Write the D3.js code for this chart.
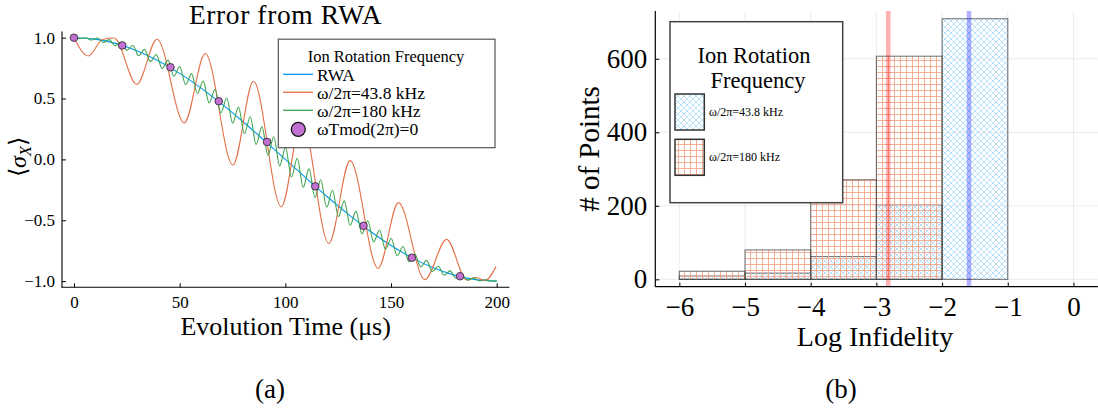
<!DOCTYPE html>
<html>
<head>
<meta charset="utf-8">
<script src="https://cdn.jsdelivr.net/npm/d3@7"></script>
<style>
  body { margin: 0; background: #fff; }
</style>
</head>
<body>
<div id="chart"></div>
<script>
// ---- data: panel (a) ----
var rwaT = [0, 10, 20, 30, 40, 50, 60, 70, 80, 90, 100, 110, 120, 130, 140, 150, 160, 170, 180, 190, 200];
var rwaY = [1, 0.988, 0.951, 0.891, 0.809, 0.707, 0.588, 0.454, 0.309, 0.156, 0, -0.156, -0.309, -0.454, -0.588, -0.707, -0.809, -0.891, -0.951, -0.988, -1];

var slowT = [0, 6.8, 13.5, 19, 29.7, 39.3, 52.2, 62.1, 75.2, 84.9, 98.1, 107.7, 120.6, 130.6, 143.9, 153.5, 166, 176.3, 185.8, 190.3, 194.4, 199.7];
var slowY = [1, 0.85, 0.985, 0.997, 0.617, 0.987, 0.30, 0.87, -0.046, 0.642, -0.39, 0.33, -0.69, -0.01, -0.896, -0.355, -0.988, -0.657, -0.99, -0.97, -0.995, -0.88];

var fastT = [0, 2.78, 5.56, 8.34, 11.12, 13.9, 16.68, 19.46, 22.24, 25.02, 27.8, 30.58, 33.36, 36.14, 38.92, 41.7, 44.48, 47.26, 50.04, 52.82,
  55.6, 58.38, 61.16, 63.94, 66.72, 69.5, 72.28, 75.06, 77.84, 80.62, 83.4, 86.18, 88.96, 91.74, 94.52, 97.3, 100.08, 102.86, 105.64, 108.42,
  111.2, 113.98, 116.76, 119.54, 122.32, 125.1, 127.88, 130.66, 133.44, 136.22, 139, 141.78, 144.56, 147.34, 150.12, 152.9, 155.68, 158.46, 161.24, 164.02,
  166.8, 169.58, 172.36, 175.14, 177.92, 180.7, 183.48, 186.26, 189.04, 191.82, 194.6, 197.38, 200];
var fastY = [1.000, 0.993, 0.999, 0.981, 0.997, 0.961, 0.984, 0.934, 0.964, 0.896,
  0.938, 0.852, 0.904, 0.803, 0.862, 0.747, 0.816, 0.684, 0.763, 0.615,
  0.705, 0.542, 0.643, 0.464, 0.576, 0.382, 0.504, 0.298, 0.430, 0.211,
  0.351, 0.123, 0.270, 0.034, 0.186, -0.054, 0.099, -0.145, 0.010, -0.230,
  -0.078, -0.313, -0.167, -0.393, -0.254, -0.470, -0.341, -0.543, -0.425, -0.613,
  -0.504, -0.678, -0.580, -0.738, -0.650, -0.792, -0.716, -0.841, -0.776, -0.884,
  -0.830, -0.921, -0.878, -0.952, -0.916, -0.976, -0.948, -0.992, -0.973, -0.998,
  -0.989, -0.999, -1.000];

var markT = [0, 22.83, 45.66, 68.49, 91.32, 114.16, 136.99, 159.82, 182.65];
var markY = [1.0, 0.936, 0.757, 0.478, 0.144, -0.221, -0.546, -0.808, -0.960];

var lineNames = ["RWA", "ω/2π=43.8 kHz", "ω/2π=180 kHz", "ωTmod(2π)=0"];
var xTicksA = [0, 50, 100, 150, 200];
var yTicksA = [-1, -0.5, 0, 0.5, 1];

// ---- data: panel (b) ----
var binEdges = [-6, -5, -4, -3, -2, -1, 0];
var countsSlow = [9, 17, 62, 203, 709, 0];   // 43.8 kHz
var countsFast = [22, 80, 271, 607, 0, 0];   // 180 kHz
var meanSlow = -1.59;
var meanFast = -2.82;
var histNames = ["ω/2π=43.8 kHz", "ω/2π=180 kHz"];
var xTicksB = [-6, -5, -4, -3, -2, -1, 0];
var yTicksB = [0, 200, 400, 600];

var BLUE = "#009AFA", ORANGE = "#E36F47", GREEN = "#3EA44E", PURPLE = "#C271D2";
var SERIF = "Liberation Serif";

var svg = d3.select('#chart').append('svg').attr('width', 1098).attr('height', 413)
  .attr('font-family', SERIF);
var defs = svg.append('defs');

// small helper so every label gets the serif font
function label(g, x, y, size, txt, anchor) {
  return g.append('text').attr('x', x).attr('y', y).attr('text-anchor', anchor || 'middle')
    .style('font-family', SERIF).style('font-size', size + 'px').attr('fill', '#000').text(txt);
}

// hatch patterns
var pb = defs.append('pattern').attr('id', 'hatchBlue').attr('patternUnits', 'userSpaceOnUse')
  .attr('width', 6).attr('height', 6);
pb.append('path').attr('d', 'M0,0L6,6M6,0L0,6M-1,5L1,7M5,-1L7,1M-1,1L1,-1M5,7L7,5')
  .attr('stroke', '#7fcaf7').attr('stroke-width', 0.55).attr('fill', 'none');
var po = defs.append('pattern').attr('id', 'hatchOrange').attr('patternUnits', 'userSpaceOnUse')
  .attr('width', 6).attr('height', 6);
po.append('path').attr('d', 'M0.5,0V6M0,0.5H6')
  .attr('stroke', '#f4a68b').attr('stroke-width', 0.9).attr('fill', 'none');

function fmtMinus(v, d) {
  var s = d3.format('.' + d + 'f')(Math.abs(v));
  return (v < 0 ? '\u2212' : '') + s;
}

// ================= panel (a) =================
var xA = d3.scaleLinear().domain([-6, 206]).range([61.3, 509.4]);
var yA = d3.scaleLinear().domain([-1.05, 1.05]).range([287.2, 31.6]);
var gA = svg.append('g');

label(gA, 285.5, 24, 27.5, 'Error from RWA').attr('letter-spacing', 0.6);

var lineA = function(ts, ys) {
  return d3.line().x(function(d, i) { return xA(ts[i]); }).y(function(d, i) { return yA(ys[i]); })
    .curve(d3.curveMonotoneX)(ts);
};
gA.append('path').attr('d', lineA(rwaT, rwaY)).attr('fill', 'none').attr('stroke', BLUE).attr('stroke-width', 1.1);
gA.append('path').attr('d', lineA(slowT, slowY)).attr('fill', 'none').attr('stroke', ORANGE).attr('stroke-width', 1.1);
gA.append('path').attr('d', lineA(fastT, fastY)).attr('fill', 'none').attr('stroke', GREEN).attr('stroke-width', 1.1);
gA.selectAll('.mk').data(markT).enter().append('circle')
  .attr('cx', function(d) { return xA(d); }).attr('cy', function(d, i) { return yA(markY[i]); })
  .attr('r', 3.8).attr('fill', PURPLE).attr('stroke', '#222').attr('stroke-width', 0.8);

// axes (a)
var axA = gA.append('g').attr('transform', 'translate(0,287.3)')
  .call(d3.axisBottom(xA).tickValues(xTicksA).tickSize(-4).tickPadding(8).tickFormat(d3.format('d')));
var ayA = gA.append('g').attr('transform', 'translate(62,0)')
  .call(d3.axisLeft(yA).tickValues(yTicksA).tickSize(-4).tickPadding(7).tickFormat(function(d) { return fmtMinus(d, 1); }));
[axA, ayA].forEach(function(a) {
  a.attr('font-family', SERIF);
  a.select('.domain').attr('stroke', '#000').attr('stroke-width', 1.1);
  a.selectAll('.tick line').attr('stroke', '#000');
  a.selectAll('text').style('font-family', SERIF).style('font-size', '17px').attr('fill', '#000');
});
axA.select('.domain').attr('d', 'M61.3,0H509.4');
ayA.select('.domain').attr('d', 'M0,31.6V287.3');
axA.selectAll('text').attr('dy', '0.71em').attr('y', 8.5);

label(gA, 285.7, 335, 26, 'Evolution Time (μs)');
var yl = gA.append('text').attr('transform', 'translate(26,157) rotate(-90)').attr('text-anchor', 'middle')
  .style('font-family', SERIF).style('font-size', '24px');
yl.append('tspan').text('⟨');
yl.append('tspan').style('font-style', 'italic').text('σ');
yl.append('tspan').style('font-style', 'italic').style('font-size', '17px').attr('dy', 5).text('X');
yl.append('tspan').attr('dy', -5).text('⟩');

// legend (a)
var lgA = gA.append('g');
lgA.append('rect').attr('x', 278.3).attr('y', 39.2).attr('width', 216.7).attr('height', 108.5)
  .attr('fill', '#fff').attr('stroke', '#555').attr('stroke-width', 1.2);
label(lgA, 386, 62, 16.5, 'Ion Rotation Frequency');
var lcol = [BLUE, ORANGE, GREEN];
lineNames.forEach(function(n, i) {
  var cy = 74.3 + i * 18;
  if (i < 3) {
    lgA.append('line').attr('x1', 283).attr('x2', 313).attr('y1', cy).attr('y2', cy)
      .attr('stroke', lcol[i]).attr('stroke-width', 1.3);
  } else {
    lgA.append('circle').attr('cx', 298.3).attr('cy', cy + 1).attr('r', 7)
      .attr('fill', PURPLE).attr('stroke', '#111').attr('stroke-width', 1.3);
  }
  label(lgA, 317, cy + 6.5, 17.5, n, 'start');
});

label(gA, 270, 398, 27, '(a)');

// ================= panel (b) =================
var xB = d3.scaleLinear().domain([-6.366, 0.372]).range([655.3, 1097.9]);
var yB = d3.scaleLinear().domain([-20, 730]).range([286.7, 11]);
var gB = svg.append('g');

// grid
gB.selectAll('.gx').data(xTicksB).enter().append('line')
  .attr('x1', function(d) { return xB(d); }).attr('x2', function(d) { return xB(d); })
  .attr('y1', 11).attr('y2', 286.7).attr('stroke', '#000').attr('stroke-opacity', 0.08).attr('stroke-width', 1);
gB.selectAll('.gy').data(yTicksB).enter().append('line')
  .attr('x1', 655.3).attr('x2', 1097.9)
  .attr('y1', function(d) { return yB(d); }).attr('y2', function(d) { return yB(d); })
  .attr('stroke', '#000').attr('stroke-opacity', 0.08).attr('stroke-width', 1);

function bars(counts, fillId) {
  gB.append('g').selectAll('rect').data(counts).enter().append('rect')
    .attr('x', function(d, i) { return xB(binEdges[i]); })
    .attr('width', function(d, i) { return xB(binEdges[i + 1]) - xB(binEdges[i]); })
    .attr('y', function(d) { return yB(d); })
    .attr('height', function(d) { return yB(0) - yB(d); })
    .attr('fill', 'url(#' + fillId + ')')
    .attr('stroke', '#333').attr('stroke-opacity', 0.65).attr('stroke-width', 1.1);
}
bars(countsSlow, 'hatchBlue');
bars(countsFast, 'hatchOrange');

// mean lines
gB.append('line').attr('x1', xB(meanFast)).attr('x2', xB(meanFast)).attr('y1', 11).attr('y2', 286.7)
  .attr('stroke', '#ff0000').attr('stroke-opacity', 0.3).attr('stroke-width', 4.6);
gB.append('line').attr('x1', xB(meanSlow)).attr('x2', xB(meanSlow)).attr('y1', 11).attr('y2', 286.7)
  .attr('stroke', '#0000ff').attr('stroke-opacity', 0.3).attr('stroke-width', 4.6);

var axB = gB.append('g').attr('transform', 'translate(0,286.7)')
  .call(d3.axisBottom(xB).tickValues(xTicksB).tickSize(-4).tickPadding(8).tickFormat(function(d) { return fmtMinus(d, 0); }));
var ayB = gB.append('g').attr('transform', 'translate(655.3,0)')
  .call(d3.axisLeft(yB).tickValues(yTicksB).tickSize(-4).tickPadding(8).tickFormat(d3.format('d')));
[axB, ayB].forEach(function(a) {
  a.attr('font-family', SERIF);
  a.select('.domain').attr('stroke', '#000').attr('stroke-width', 1.2);
  a.selectAll('.tick line').attr('stroke', '#000');
  a.selectAll('text').style('font-family', SERIF).style('font-size', '27px').attr('fill', '#000');
});
axB.select('.domain').attr('d', 'M655.3,0H1097.9');
ayB.select('.domain').attr('d', 'M0,11V286.7');
axB.selectAll('text').attr('dy', '0.71em').attr('y', 10);

label(gB, 875, 346, 28, 'Log Infidelity');
label(gB, 0, 0, 29, '# of Points').attr('transform', 'translate(599,149) rotate(-90)');

// legend (b)
var lgB = gB.append('g');
lgB.append('rect').attr('x', 670).attr('y', 21.7).attr('width', 172.7).attr('height', 181)
  .attr('fill', '#fff').attr('stroke', '#444').attr('stroke-width', 1.5);
label(lgB, 754, 62.5, 22.5, 'Ion Rotation');
label(lgB, 758, 88, 22.5, 'Frequency');
['hatchBlue', 'hatchOrange'].forEach(function(p, i) {
  var y0 = 94 + i * 45.3;
  lgB.append('rect').attr('x', 675).attr('y', y0).attr('width', 29.3).attr('height', 36)
    .attr('fill', 'url(#' + p + ')').attr('stroke', '#333').attr('stroke-width', 1.5);
  label(lgB, 709, y0 + 22, 12, histNames[i], 'start');
});

label(gB, 841, 398, 27, '(b)');
</script>
</body>
</html>
